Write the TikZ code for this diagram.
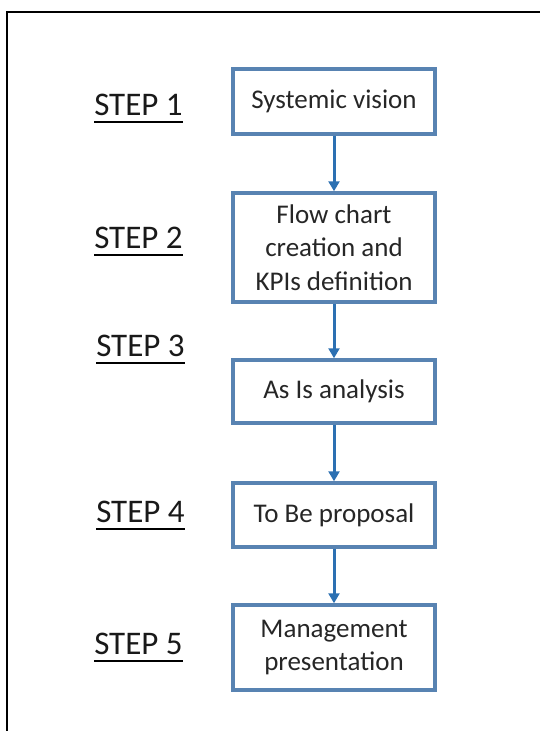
\documentclass[tikz,border=0pt]{standalone}
\usepackage{fontspec}
\setmainfont{Carlito}
\usepackage{xcolor}
\usepackage{tikz}
\usetikzlibrary{arrows.meta}
\definecolor{boxblue}{RGB}{88,131,178}
\definecolor{arrowblue}{RGB}{44,112,178}

\begin{document}
\begin{tikzpicture}[x=1pt, y=-1pt, line width=.5pt,
    stepbox/.style={draw=boxblue, line width=3.5pt, minimum width=202pt, align=center, text=black!85, font=\fontsize{27}{33.5}\selectfont},
    steplabel/.style={inner sep=0pt, anchor=base west, text=black!90, font=\fontsize{33}{40}\selectfont},
    flow/.style={color=arrowblue, line width=3pt, -{Triangle[length=10pt, width=11pt]}}]
    \useasboundingbox (0,0) rectangle (540,731);
    \draw[color=black, line width=2pt] (7,731) -- (7,11.5) -- (540,11.5);

    \node[stepbox, minimum height=65pt] (vision) at (334,101.5) {Systemic vision};
    \node[stepbox, minimum height=109pt] (chart) at (334,247.5) {Flow chart\\creation and\\KPIs definition};
    \node[stepbox, minimum height=63pt] (asis) at (334,391.5) {As Is analysis};
    \node[stepbox, minimum height=64pt] (tobe) at (334,515) {To Be proposal};
    \node[stepbox, minimum height=85pt] (mgmt) at (334,647.5) {Management\\presentation};

    \draw[flow] (vision) -- (chart);
    \draw[flow] (chart) -- (asis);
    \draw[flow] (asis) -- (tobe);
    \draw[flow] (tobe) -- (mgmt);

    \node[steplabel] (step1) at (94,115) {STEP 1};
    \node[steplabel] (step2) at (94,248) {STEP 2};
    \node[steplabel] (step3) at (96,356) {STEP 3};
    \node[steplabel] (step4) at (96,522) {STEP 4};
    \node[steplabel] (step5) at (94,654) {STEP 5};
    \draw[color=black, line width=2.5pt] ([yshift=-7pt]step1.base west) -- ([yshift=-7pt]step1.base east);
    \draw[color=black, line width=2.5pt] ([yshift=-7pt]step2.base west) -- ([yshift=-7pt]step2.base east);
    \draw[color=black, line width=2.5pt] ([yshift=-7pt]step3.base west) -- ([yshift=-7pt]step3.base east);
    \draw[color=black, line width=2.5pt] ([yshift=-7pt]step4.base west) -- ([yshift=-7pt]step4.base east);
    \draw[color=black, line width=2.5pt] ([yshift=-7pt]step5.base west) -- ([yshift=-7pt]step5.base east);
\end{tikzpicture}
\end{document}
